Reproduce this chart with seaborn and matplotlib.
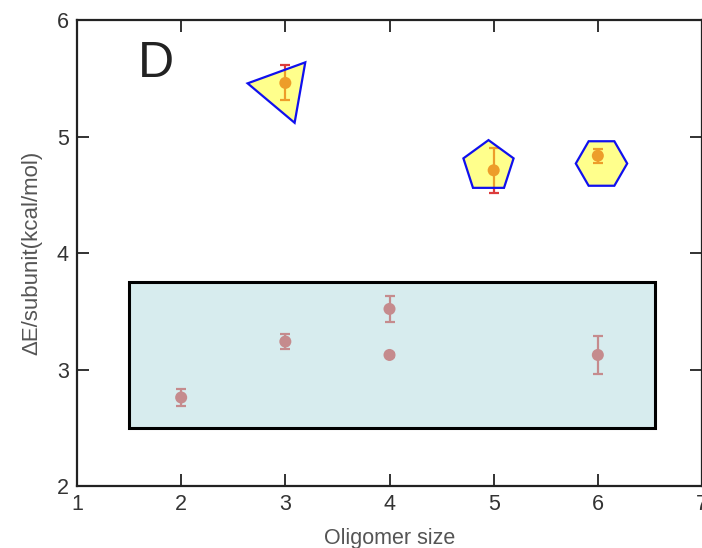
import matplotlib
matplotlib.use("Agg")
import matplotlib.pyplot as plt
import seaborn as sns
import pandas as pd
from matplotlib.patches import Rectangle

# ---- data ----
oligomer = [2, 3, 4, 4, 6, 3, 5, 6]
energy = [2.76, 3.24, 3.52, 3.125, 3.125, 5.46, 4.71, 4.835]
err = [0.075, 0.065, 0.115, 0.015, 0.165, 0.15, 0.195, 0.06]

# highlighted (yellow polygon) groups
hl_x = [2.97, 4.95, 6.03]
hl_y = [5.41, 4.75, 4.77]
hl_sides = [3, 5, 6]
hl_rot = [80, 0, 30]
hl_size = [51, 38, 37]

x_ticks = [1, 2, 3, 4, 5, 6, 7]
y_ticks = [2, 3, 4, 5, 6]
panel_label = "D"
xlabel = "Oligomer size"
ylabel = "ΔE/subunit(kcal/mol)"

df = pd.DataFrame({"oligomer": oligomer, "energy": energy, "err": err})

sns.set_style("ticks")
plt.rcParams["font.family"] = ["Liberation Sans", "DejaVu Sans"]

fig = plt.figure(figsize=(7.02, 5.48), dpi=100)
ax = fig.add_axes([0.1097, 0.1131, 0.8903, 0.8504])

red = "#dc3c3c"
ax.errorbar(df["oligomer"], df["energy"], yerr=df["err"], fmt="none",
            ecolor=red, elinewidth=1.6, capsize=3.6, capthick=1.6, zorder=2)
sns.scatterplot(data=df, x="oligomer", y="energy", ax=ax, color=red,
                s=75, edgecolor="none", zorder=3, legend=False)

# translucent box over the lower group
ax.add_patch(Rectangle((1.5, 2.5), 5.05, 1.25, facecolor=(0.69, 0.855, 0.87, 0.5),
                       edgecolor="black", linewidth=2.2, zorder=4))

# yellow polygons over the upper group
for x, y, n, r, s in zip(hl_x, hl_y, hl_sides, hl_rot, hl_size):
    ax.plot([x], [y], marker=(n, 0, r), markersize=s, linestyle="none",
            markerfacecolor=(1.0, 1.0, 0.1, 0.5), markeredgecolor="#1010ee",
            markeredgewidth=1.6, zorder=5)

ax.text(1.76, 5.62, panel_label, fontsize=36, ha="center", va="center",
        color="#222222")

ax.set_xlim(1, 7)
ax.set_ylim(2, 6)
ax.set_xticks(x_ticks)
ax.set_yticks(y_ticks)
ax.tick_params(direction="in", length=8.5, width=1.3, top=True, right=True,
               labelsize=15.5, labelcolor="#333333", pad=6, color="#222222")
for sp in ax.spines.values():
    sp.set_linewidth(1.6)
    sp.set_color("#222222")

ax.set_xlabel(xlabel, fontsize=15.5, color="#555555", labelpad=9)
ax.set_ylabel(ylabel, fontsize=16, color="#555555", labelpad=10)

fig.savefig("out.png", dpi=100)
